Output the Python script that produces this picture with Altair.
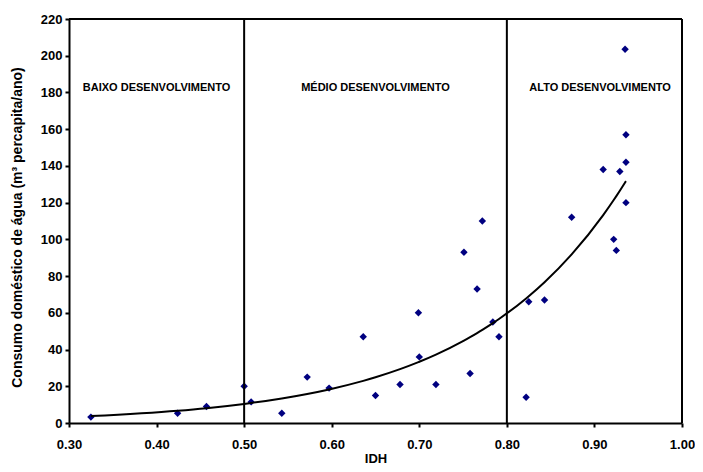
import altair as alt
import pandas as pd

idh = [0.325, 0.424, 0.457, 0.500, 0.508, 0.543, 0.572, 0.597, 0.636, 0.650, 0.678,
       0.699, 0.700, 0.719, 0.751, 0.758, 0.766, 0.772, 0.784, 0.791, 0.822, 0.825,
       0.843, 0.874, 0.910, 0.922, 0.925, 0.929, 0.935, 0.936, 0.936, 0.936]
consumo = [3.2, 5.3, 9, 20, 11.5, 5.3, 25, 19, 47, 15, 21,
           60, 36, 21, 93, 27, 73, 110, 55, 47, 14, 66,
           67, 112, 138, 100, 94, 137, 203.5, 157, 142, 120]

limites = [0.5, 0.8]
faixa_nome = ["BAIXO DESENVOLVIMENTO", "MÉDIO DESENVOLVIMENTO", "ALTO DESENVOLVIMENTO"]
faixa_x = [0.40, 0.65, 0.9065]
faixa_y = [182.5, 182.5, 182.5]

x_ticks = [0.3, 0.4, 0.5, 0.6, 0.7, 0.8, 0.9, 1.0]
y_ticks = list(range(0, 221, 20))
x_max = 1.0
y_max = 220

pts = pd.DataFrame({"idh": idh, "consumo": consumo})
lim = pd.DataFrame({"x": limites + [x_max]})
lab = pd.DataFrame({"nome": faixa_nome, "x": faixa_x, "y": faixa_y})
top = pd.DataFrame({"y": [y_max]})

FONT = "Liberation Sans"
xs = alt.Scale(domain=[0.3, x_max], nice=False)
ys = alt.Scale(domain=[0, y_max], nice=False)

xax = alt.Axis(values=x_ticks, format=".2f", title="IDH", grid=False, labelFlush=False,
               labelOverlap=False,
               labelFontSize=13, labelFontWeight="bold", labelFont=FONT, labelColor="black",
               titleFontSize=13, titleFontWeight="bold", titleFont=FONT, titleColor="black",
               domainColor="black", domainWidth=2, tickColor="black", tickWidth=2, tickSize=4,
               labelPadding=11, titleY=35, titleBaseline="middle")
yax = alt.Axis(values=y_ticks, format="d", grid=False, labelOverlap=False, labelFlush=False,
               title="Consumo doméstico de água (m³ percapita/ano)",
               labelFontSize=13, labelFontWeight="bold", labelFont=FONT, labelColor="black",
               titleFontSize=14, titleFontWeight="bold", titleFont=FONT, titleColor="black",
               domainColor="black", domainWidth=2, tickColor="black", tickWidth=2, tickSize=4,
               labelPadding=3, titleX=-52, titleY=208, titleBaseline="middle")

base = alt.Chart(pts)

points = base.mark_point(shape="diamond", filled=True, color="#000080", size=55, opacity=1).encode(
    x=alt.X("idh:Q", scale=xs, axis=xax),
    y=alt.Y("consumo:Q", scale=ys, axis=yax),
)

trend = base.transform_calculate(
    ly="log(datum.consumo)",
    xly="datum.idh * log(datum.consumo)",
    x2="datum.idh * datum.idh",
).transform_joinaggregate(
    mx="mean(idh)", mly="mean(ly)", mxly="mean(xly)", mx2="mean(x2)"
).transform_calculate(
    b="(datum.mxly - datum.mx * datum.mly) / (datum.mx2 - datum.mx * datum.mx)"
).transform_calculate(
    a="datum.mly - datum.b * datum.mx"
).transform_calculate(
    fit="exp(datum.a + datum.b * datum.idh)"
).mark_line(color="black", strokeWidth=2, interpolate="monotone").encode(
    x=alt.X("idh:Q", scale=xs, axis=xax),
    y=alt.Y("fit:Q", scale=ys, axis=yax),
    order="idh:Q",
)

rules = alt.Chart(lim).mark_rule(color="black", strokeWidth=2).encode(
    x=alt.X("x:Q", scale=xs, axis=xax)
)

top_rule = alt.Chart(top).mark_rule(color="black", strokeWidth=2).encode(
    y=alt.Y("y:Q", scale=ys, axis=yax)
)

texts = alt.Chart(lab).mark_text(font=FONT, fontSize=11, fontWeight="bold", color="black",
                                 baseline="middle", align="center").encode(
    x=alt.X("x:Q", scale=xs, axis=xax),
    y=alt.Y("y:Q", scale=ys, axis=yax),
    text="nome:N",
)

chart = alt.layer(points, trend, rules, top_rule, texts).properties(
    width=613, height=404,
    autosize=alt.AutoSizeParams(type="none"),
    padding={"left": 61, "top": 11, "right": 13, "bottom": 41},
    background="white",
).configure_view(stroke=None)

chart.save("out.html", embed_options={"renderer": "svg", "actions": False})
